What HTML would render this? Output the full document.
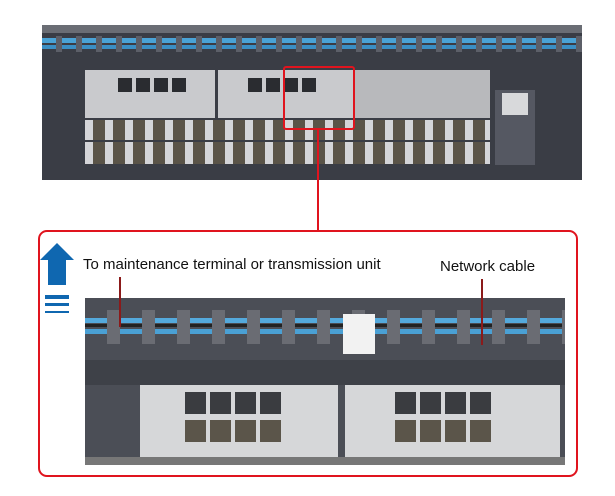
<!DOCTYPE html>
<html><head><style>
body{margin:0;width:615px;height:496px;background:#fff;position:relative;overflow:hidden;font-family:"Liberation Sans",Arial,sans-serif}
.a{position:absolute}
</style></head><body>
<!-- top photo -->
<div class="a" style="left:42px;top:25px;width:540px;height:155px;background:#3a3d45"></div>
<div class="a" style="left:42px;top:25px;width:540px;height:8px;background:#6a6d74"></div>
<div class="a" style="left:42px;top:38px;width:540px;height:5px;background:#4aa3d6"></div>
<div class="a" style="left:42px;top:45px;width:540px;height:4px;background:#3b8fc4"></div>
<div class="a" style="left:42px;top:36px;width:540px;height:16px;background:repeating-linear-gradient(90deg,transparent 0 14px,#5c5f68 14px 20px)"></div>
<div class="a" style="left:85px;top:70px;width:130px;height:48px;background:#c9cacd"></div>
<div class="a" style="left:218px;top:70px;width:135px;height:48px;background:#c9cacd"></div>
<div class="a" style="left:355px;top:70px;width:135px;height:48px;background:#b8b9bc"></div>
<div class="a" style="left:118px;top:78px;width:70px;height:14px;background:repeating-linear-gradient(90deg,#2a2c30 0 14px,#c9cacd 14px 18px)"></div>
<div class="a" style="left:248px;top:78px;width:70px;height:14px;background:repeating-linear-gradient(90deg,#2a2c30 0 14px,#c9cacd 14px 18px)"></div>
<div class="a" style="left:85px;top:120px;width:405px;height:20px;background:repeating-linear-gradient(90deg,#d4d5d8 0 8px,#5a5448 8px 20px)"></div>
<div class="a" style="left:85px;top:142px;width:405px;height:22px;background:repeating-linear-gradient(90deg,#d4d5d8 0 8px,#5a5448 8px 20px)"></div>
<div class="a" style="left:495px;top:90px;width:40px;height:75px;background:#555862"></div>
<div class="a" style="left:502px;top:93px;width:26px;height:22px;background:#d8d9db"></div>
<div class="a" style="left:283px;top:66px;width:68px;height:60px;border:2px solid #e0141e;border-radius:3px"></div>
<div class="a" style="left:317px;top:128px;width:2px;height:103px;background:#e0141e"></div>
<!-- bottom frame -->
<div class="a" style="left:38px;top:230px;width:536px;height:243px;border:2px solid #e0141e;border-radius:9px"></div>
<!-- arrow -->
<div class="a" style="left:40px;top:243px;width:0;height:0;border-left:17px solid transparent;border-right:17px solid transparent;border-bottom:17px solid #0f67b0"></div>
<div class="a" style="left:48px;top:259px;width:18px;height:26px;background:#0f67b0"></div>
<div class="a" style="left:45px;top:295px;width:24px;height:4px;background:#0f67b0"></div>
<div class="a" style="left:45px;top:303px;width:24px;height:3px;background:#0f67b0"></div>
<div class="a" style="left:45px;top:311px;width:24px;height:2px;background:#0f67b0"></div>
<div class="a" style="left:83px;top:256px;font-size:15px;color:#111">To maintenance terminal or transmission unit</div>
<div class="a" style="left:440px;top:258px;font-size:15px;color:#111">Network cable</div>
<!-- bottom photo -->
<div class="a" style="left:85px;top:298px;width:480px;height:167px;background:#4b4e56"></div>
<div class="a" style="left:85px;top:318px;width:480px;height:5px;background:#54a9dc"></div>
<div class="a" style="left:85px;top:324px;width:480px;height:3px;background:#222"></div>
<div class="a" style="left:85px;top:329px;width:480px;height:5px;background:#4aa0d4"></div>
<div class="a" style="left:85px;top:310px;width:480px;height:34px;background:repeating-linear-gradient(90deg,transparent 0 22px,#6a6c73 22px 35px)"></div>
<div class="a" style="left:343px;top:314px;width:32px;height:40px;background:#f2f2f2"></div>
<div class="a" style="left:85px;top:360px;width:480px;height:25px;background:#3e4148"></div>
<div class="a" style="left:140px;top:385px;width:198px;height:72px;background:#d6d7d9"></div>
<div class="a" style="left:345px;top:385px;width:215px;height:72px;background:#d6d7d9"></div>
<div class="a" style="left:185px;top:392px;width:100px;height:22px;background:repeating-linear-gradient(90deg,#3a3c40 0 21px,#d6d7d9 21px 25px)"></div>
<div class="a" style="left:395px;top:392px;width:100px;height:22px;background:repeating-linear-gradient(90deg,#3a3c40 0 21px,#d6d7d9 21px 25px)"></div>
<div class="a" style="left:185px;top:420px;width:100px;height:22px;background:repeating-linear-gradient(90deg,#5b554a 0 21px,#d6d7d9 21px 25px)"></div>
<div class="a" style="left:395px;top:420px;width:100px;height:22px;background:repeating-linear-gradient(90deg,#5b554a 0 21px,#d6d7d9 21px 25px)"></div>
<div class="a" style="left:85px;top:457px;width:480px;height:8px;background:#777"></div>
<div class="a" style="left:119px;top:277px;width:2px;height:50px;background:#8b1a1a"></div>
<div class="a" style="left:481px;top:279px;width:2px;height:66px;background:#8b1a1a"></div>
</body></html>
